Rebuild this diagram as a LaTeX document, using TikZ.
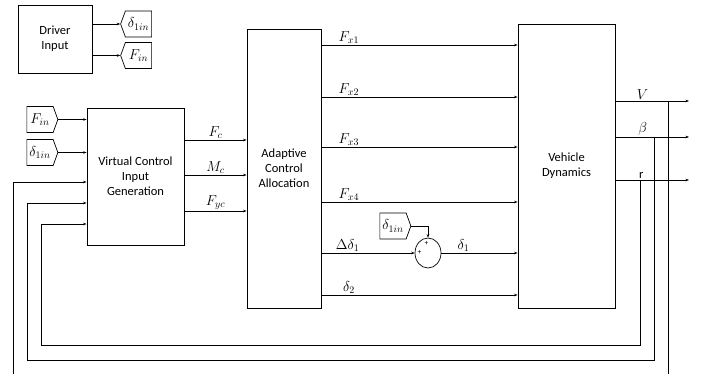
\documentclass[tikz,border=0pt]{standalone}
\usepackage{fontspec}
\setmainfont{Carlito}
\usetikzlibrary{shapes.symbols,shapes.geometric,arrows.meta}
\begin{document}
\begin{tikzpicture}[x=1pt,y=-1pt,
  font=\fontsize{12.5}{15}\selectfont,
  blk/.style={draw, line width=0.9pt, inner sep=0pt, align=center},
  tagbase/.style={draw, line width=0.7pt, shape=signal, signal pointer angle=140,
     minimum width=31pt, minimum height=26pt, inner sep=0pt, font=\fontsize{14}{14}\selectfont},
  tagl/.style={tagbase, signal to=west},
  tagr/.style={tagbase, signal to=east},
  conn/.style={line width=0.6pt, -{Stealth[length=3.5pt,width=2.6pt]}},
  wire/.style={line width=0.6pt},
  lab/.style={font=\fontsize{14}{14}\selectfont, inner sep=1.5pt},
  plus/.style={font=\fontsize{7.5}{7.5}\selectfont, inner sep=0pt}]
\useasboundingbox (0,0) rectangle (704,374);

% blocks
\node[blk, minimum width=74pt, minimum height=68pt] (drv) at (55,39) {Driver\\Input};
\node[blk, minimum width=97pt, minimum height=137pt] (vcig) at (135.5,176.5) {Virtual Control\\Input\\Generation};
\node[blk, minimum width=74pt, minimum height=279pt] (aca) at (284,168.5) {Adaptive\\Control\\Allocation};
\node[blk, minimum width=97pt, minimum height=284pt] (vd) at (566.5,166) {Vehicle\\Dynamics};
\node[draw, line width=0.7pt, ellipse, minimum width=26pt, minimum height=30pt, inner sep=0pt] (sum) at (428,253) {};

% tags
\node[tagl] (td) at (138.5,24) {$\delta_{1in}$};
\node[tagl] (tf) at (138.5,55.5) {$F_{in}$};
\node[tagr] (lf) at (40,119.5) {$F_{in}$};
\node[tagr] (ld) at (40,152.5) {$\delta_{1in}$};
\node[tagr] (sd) at (393,226) {$\delta_{1in}$};

% plus signs
\node[plus] (p1) at (426.5,243) {+};
\node[plus] (p2) at (419.5,252) {+};

% driver outputs
\draw[conn] (drv.east |- td.west) -- (td.west);
\draw[conn] (drv.east |- tf.west) -- (tf.west);

% inputs to VCIG
\draw[conn] (lf.east) -- (lf.east -| vcig.west);
\draw[conn] (ld.east) -- (ld.east -| vcig.west);

% VCIG -> ACA
\draw[conn] (vcig.east |- 0,140) -- node[lab, above] {$F_c$} (aca.west |- 0,140);
\draw[conn] (vcig.east |- 0,175) -- node[lab, above] {$M_c$} (aca.west |- 0,175);
\draw[conn] (vcig.east |- 0,211) -- node[lab, above] {$F_{yc}$} (aca.west |- 0,211);

% ACA -> VD
\draw[conn] (aca.east |- 0,45) -- node[lab, above, pos=0.14] {$F_{x1}$} (vd.west |- 0,45);
\draw[conn] (aca.east |- 0,97) -- node[lab, above, pos=0.14] {$F_{x2}$} (vd.west |- 0,97);
\draw[conn] (aca.east |- 0,147) -- node[lab, above, pos=0.14] {$F_{x3}$} (vd.west |- 0,147);
\draw[conn] (aca.east |- 0,202) -- node[lab, above, pos=0.14] {$F_{x4}$} (vd.west |- 0,202);
\draw[conn] (aca.east |- sum.west) -- node[lab, above, pos=0.28] {$\Delta\delta_1$} (sum.west);
\draw[conn] (sd.east) -| (sum.north);
\draw[conn] (sum.east) -- node[lab, above, pos=0.29] {$\delta_1$} (sum.east -| vd.west);
\draw[conn] (aca.east |- 0,295) -- node[lab, above, pos=0.14] {$\delta_2$} (vd.west |- 0,295);

% VD outputs
\coordinate (oV) at (689,101);
\coordinate (oB) at (689,137);
\coordinate (oR) at (689,180);
\draw[conn] (vd.east |- oV) -- node[lab, above, pos=0.37] {$V$} (oV);
\draw[conn] (vd.east |- oB) -- node[lab, above, pos=0.37] {$\beta$} (oB);
\draw[conn] (vd.east |- oR) -- node[above, inner sep=1.5pt, pos=0.35] {r} (oR);

% feedback
\coordinate (jR) at (640,180);
\coordinate (jB) at (654,137);
\coordinate (jV) at (668,101);
\coordinate (eV) at (668,374);
\coordinate (fR) at (41,345);
\coordinate (fB) at (27,360);
\coordinate (fV) at (13,374);
\draw[conn] (jR) |- (fR) |- (vcig.west |- 0,224);
\draw[conn] (jB) |- (fB) |- (vcig.west |- 0,203);
\draw[wire] (jV) -- (eV);
\draw[conn] (fV) |- (vcig.west |- 0,182);
\end{tikzpicture}
\end{document}
